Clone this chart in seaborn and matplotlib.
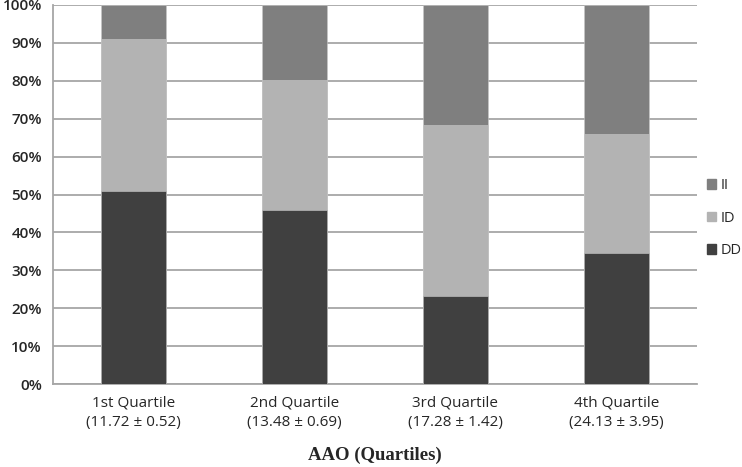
import numpy as np
import pandas as pd
import matplotlib.pyplot as plt
import seaborn as sns
from matplotlib.patches import Patch

# Genotype shares per AAO quartile (%)
quartiles = ['1st Quartile\n(11.72 ± 0.52)', '2nd Quartile\n(13.48 ± 0.69)',
             '3rd Quartile\n(17.28 ± 1.42)', '4th Quartile\n(24.13 ± 3.95)']
dd = [51.0, 46.0, 23.2, 34.5]
id_ = [40.0, 34.2, 45.1, 31.5]
ii = [9.0, 19.8, 31.7, 34.0]
yticks = np.arange(0, 101, 10)

colors = {'DD': '#404040', 'ID': '#b3b3b3', 'II': '#7f7f7f'}

df = pd.DataFrame({'Quartile': quartiles, 'DD': dd, 'ID': id_, 'II': ii})
# cumulative tops so the layers drawn back-to-front look stacked
df['top_DD'] = df['DD']
df['top_ID'] = df['DD'] + df['ID']
df['top_II'] = df['top_ID'] + df['II']

sns.set_style('white')
plt.rcParams['font.family'] = ['Open Sans', 'DejaVu Sans']

fig = plt.figure(figsize=(7.42, 4.67), dpi=100)
ax = fig.add_axes([53 / 742, 1 - 384 / 467, 644 / 742, 379 / 467])

for layer in ['II', 'ID', 'DD']:
    sns.barplot(data=df, x='Quartile', y='top_' + layer, color=colors[layer],
                width=0.4, saturation=1, ax=ax, zorder=3, linewidth=0.4,
                edgecolor='#c8c8c8')

ax.set_ylim(0, 100)
ax.set_xlim(-0.5, 3.5)
ax.set_yticks(yticks)
ax.set_yticklabels([f'{v}%' for v in yticks], fontsize=11, fontweight='semibold')
ax.yaxis.grid(True, color='#a6a6a6', linewidth=1.3, zorder=0)
ax.set_axisbelow(True)
ax.tick_params(axis='y', length=5, color='#a6a6a6', width=1.2, pad=3)
ax.tick_params(axis='x', length=0, pad=8, labelsize=11)
for lbl in ax.get_xticklabels():
    lbl.set_linespacing(1.45)
    lbl.set_fontweight('medium')

for side in ['top', 'right']:
    ax.spines[side].set_visible(False)
for side in ['left', 'bottom']:
    ax.spines[side].set_color('#a6a6a6')
    ax.spines[side].set_linewidth(1.3)

ax.set_ylabel('')
ax.set_xlabel('AAO (Quartiles)', fontsize=13.5, fontweight='bold',
              family=['Liberation Serif', 'DejaVu Serif'], labelpad=12)

handles = [Patch(color=colors[k], label=k) for k in ['II', 'ID', 'DD']]
fig.legend(handles=handles, loc='center left', bbox_to_anchor=(707 / 742, 1 - 218 / 467),
           frameon=False, fontsize=10.5, handlelength=0.65, handleheight=0.65,
           handletextpad=0.3, labelspacing=1.2, borderaxespad=0, borderpad=0)

fig.savefig('out.png', dpi=100)
